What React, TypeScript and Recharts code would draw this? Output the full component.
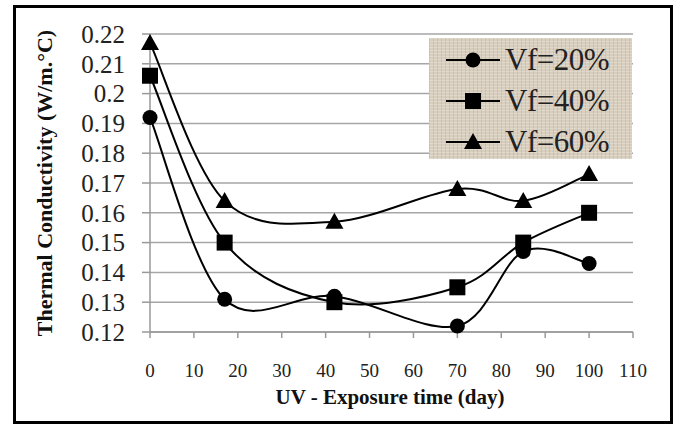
import React from "react";
import { LineChart, Line, XAxis, YAxis, CartesianGrid } from "recharts";

const days = [0, 17, 42, 70, 85, 100];
const vf20 = [0.192, 0.131, 0.132, 0.122, 0.147, 0.143];
const vf40 = [0.206, 0.15, 0.13, 0.135, 0.15, 0.16];
const vf60 = [0.217, 0.164, 0.157, 0.168, 0.164, 0.173];

const xTicks = [0, 10, 20, 30, 40, 50, 60, 70, 80, 90, 100, 110];
const yTicks = [0.12, 0.13, 0.14, 0.15, 0.16, 0.17, 0.18, 0.19, 0.2, 0.21, 0.22];

const seriesNames = ["Vf=20%", "Vf=40%", "Vf=60%"];

const data = days.map((d, i) => ({
  day: d,
  vf20: vf20[i],
  vf40: vf40[i],
  vf60: vf60[i],
}));

const FONT = '"Liberation Serif", "Times New Roman", serif';

// smoothing like excel's smoothed lines (catmull-rom as bezier)
const excelSmooth = (context: any) => {
  let pts: [number, number][] = [];
  return {
    areaStart() {},
    areaEnd() {},
    lineStart() {
      pts = [];
    },
    lineEnd() {
      const n = pts.length;
      if (!n) return;
      context.moveTo(pts[0][0], pts[0][1]);
      for (let i = 0; i < n - 1; i++) {
        const p0 = pts[Math.max(i - 1, 0)];
        const p1 = pts[i];
        const p2 = pts[i + 1];
        const p3 = pts[Math.min(i + 2, n - 1)];
        context.bezierCurveTo(
          p1[0] + (p2[0] - p0[0]) / 6,
          p1[1] + (p2[1] - p0[1]) / 6,
          p2[0] - (p3[0] - p1[0]) / 6,
          p2[1] - (p3[1] - p1[1]) / 6,
          p2[0],
          p2[1]
        );
      }
    },
    point(x: number, y: number) {
      pts.push([+x, +y]);
    },
  };
};

const Marker = ({ shape, cx, cy }: { shape: string; cx: number; cy: number }) => {
  if (shape === "circle") return <circle cx={cx} cy={cy} r={7.5} fill="#000" />;
  if (shape === "square")
    return <rect x={cx - 8} y={cy - 8} width={16} height={16} fill="#000" />;
  return (
    <polygon
      points={`${cx},${cy - 9} ${cx + 9},${cy + 7} ${cx - 9},${cy + 7}`}
      fill="#000"
    />
  );
};

const dotFor = (shape: string) => (props: any) => {
  const { cx, cy, index } = props;
  if (cx == null || cy == null) return <g key={index} />;
  return <Marker key={`${shape}-${index}`} shape={shape} cx={cx} cy={cy} />;
};

const shapes = ["circle", "square", "triangle"];

const LegendBox = () => (
  <div
    style={{
      position: "absolute",
      left: 429,
      top: 38,
      width: 203,
      height: 121,
      boxSizing: "border-box",
      paddingTop: 1,
      backgroundColor: "#d8cebd",
      backgroundImage:
        "repeating-linear-gradient(0deg, rgba(255,255,255,0.22) 0px, rgba(255,255,255,0.22) 1px, transparent 1px, transparent 3px), repeating-linear-gradient(90deg, rgba(110,90,60,0.14) 0px, rgba(110,90,60,0.14) 1px, transparent 1px, transparent 4px)",
      fontFamily: FONT,
    }}
  >
    {seriesNames.map((name, i) => (
      <div
        key={name}
        style={{ display: "flex", alignItems: "center", height: 41 }}
      >
        <svg width={72} height={24} style={{ marginLeft: 14 }}>
          <line x1={3} y1={12} x2={57} y2={12} stroke="#000" strokeWidth={2} />
          <Marker shape={shapes[i]} cx={30} cy={12} />
        </svg>
        <span
          style={{
            fontSize: 31,
            color: "#222",
            marginLeft: -10,
            lineHeight: "41px",
            letterSpacing: -0.5,
          }}
        >
          {name}
        </span>
      </div>
    ))}
  </div>
);

export default function App() {
  return (
    <div
      style={{
        position: "absolute",
        left: 0,
        top: 0,
        width: 681,
        height: 426,
        background: "#fff",
      }}
    >
      <div
        style={{
          position: "absolute",
          left: 13,
          top: 5,
          width: 660,
          height: 419,
          border: "3px solid #000",
          boxSizing: "border-box",
        }}
      />
      <div style={{ position: "absolute", left: 0, top: 0 }}>
        <LineChart
          width={681}
          height={426}
          data={data}
          margin={{ top: 34, right: 48, bottom: 0, left: 50 }}
        >
          <CartesianGrid vertical={false} stroke="#a6a6a6" strokeWidth={1.5} />
          <XAxis
            dataKey="day"
            type="number"
            domain={[0, 110]}
            ticks={xTicks}
            interval={0}
            height={94}
            tickSize={6}
            tickMargin={26}
            stroke="#999"
            strokeWidth={1.5}
            tick={{ fontFamily: FONT, fontSize: 19, fill: "#222" }}
            label={() => (
              <text
                x={390}
                y={404}
                textAnchor="middle"
                fontFamily={FONT}
                fontWeight="bold"
                fontSize={21}
                fill="#111"
              >
                UV - Exposure time (day)
              </text>
            )}
          />
          <YAxis
            type="number"
            domain={[0.12, 0.22]}
            ticks={yTicks}
            interval={0}
            width={100}
            tickSize={8}
            tickMargin={17}
            stroke="#999"
            strokeWidth={1.5}
            tick={{ fontFamily: FONT, fontSize: 25, fill: "#222" }}
            tickFormatter={(v: number) => String(+v.toFixed(2))}
            label={() => (
              <text
                x={52}
                y={183}
                transform="rotate(-90 52 183)"
                textAnchor="middle"
                fontFamily={FONT}
                fontWeight="bold"
                fontSize={22}
                fill="#111"
              >
                Thermal Conductivity (W/m.°C)
              </text>
            )}
          />
          <Line
            name={seriesNames[0]}
            dataKey="vf20"
            type={excelSmooth as any}
            stroke="#000"
            strokeWidth={2}
            dot={dotFor("circle")}
            isAnimationActive={false}
          />
          <Line
            name={seriesNames[1]}
            dataKey="vf40"
            type={excelSmooth as any}
            stroke="#000"
            strokeWidth={2}
            dot={dotFor("square")}
            isAnimationActive={false}
          />
          <Line
            name={seriesNames[2]}
            dataKey="vf60"
            type={excelSmooth as any}
            stroke="#000"
            strokeWidth={2}
            dot={dotFor("triangle")}
            isAnimationActive={false}
          />
        </LineChart>
      </div>
      <LegendBox />
    </div>
  );
}
